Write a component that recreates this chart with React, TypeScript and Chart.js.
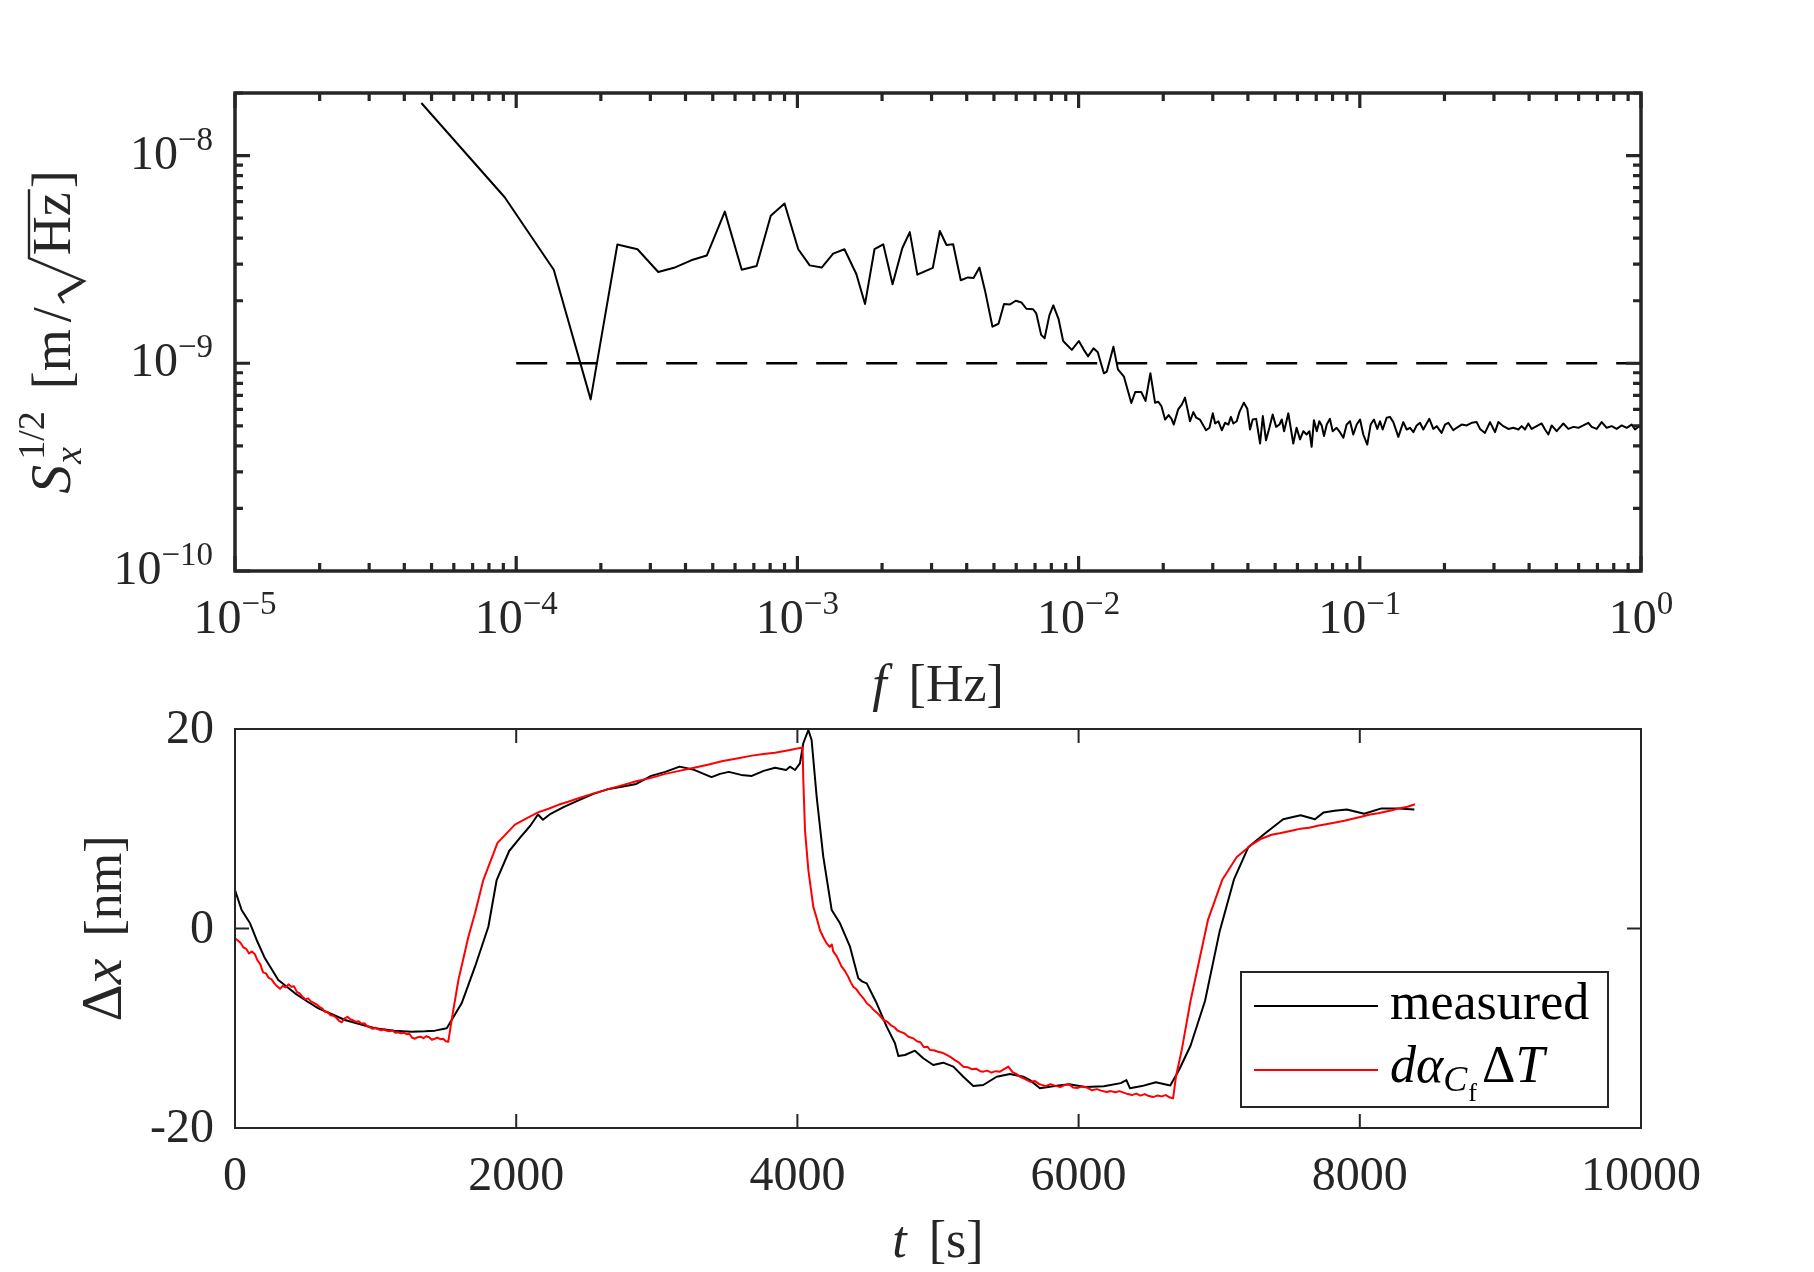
import React, { useEffect, useRef } from 'react';
import { Chart, LineController, LineElement, PointElement, LinearScale, LogarithmicScale } from 'chart.js';

Chart.register(LineController, LineElement, PointElement, LinearScale, LogarithmicScale);

// ---- top panel: amplitude spectral density ----
const psdFreq = [
  4.6e-5, 9.1e-5, 1.36e-4, 1.84e-4, 2.29e-4, 2.70e-4, 3.20e-4, 3.64e-4, 4.19e-4, 4.76e-4,
  5.52e-4, 6.34e-4, 7.16e-4, 8.04e-4, 9.00e-4, 1.007e-3, 1.106e-3, 1.22e-3, 1.34e-3, 1.47e-3,
  1.62e-3, 1.74e-3, 1.88e-3, 2.02e-3, 2.18e-3, 2.36e-3, 2.51e-3, 2.67e-3, 3.03e-3, 3.21e-3,
  3.39e-3, 3.58e-3, 3.81e-3, 4.04e-3, 4.23e-3, 4.44e-3, 4.65e-3, 4.94e-3, 5.19e-3, 5.43e-3,
  5.70e-3, 5.98e-3, 6.27e-3, 6.52e-3, 6.89e-3, 7.07e-3, 7.36e-3, 7.57e-3, 7.87e-3, 8.13e-3,
  8.49e-3, 8.81e-3, 9.46e-3, 1.002e-2, 1.04e-2, 1.08e-2, 1.13e-2, 1.17e-2, 1.23e-2, 1.26e-2,
  1.33e-2, 1.38e-2, 1.45e-2, 1.54e-2, 1.59e-2, 1.67e-2, 1.73e-2, 1.80e-2,
  0.0187, 0.0192, 0.0197, 0.0203, 0.0209, 0.0214, 0.0218, 0.0226, 0.0233, 0.0239,
  0.0244, 0.0249, 0.0256, 0.0262, 0.0270, 0.0284, 0.0292, 0.0300, 0.0306, 0.0314,
  0.0323, 0.0332, 0.0341, 0.0348, 0.0355, 0.0365, 0.0373, 0.0387, 0.0398, 0.0407,
  0.0416, 0.0428, 0.0442, 0.0452, 0.0464, 0.0477, 0.0490, 0.0504, 0.0518, 0.0528,
  0.0538, 0.0557, 0.0580, 0.0596, 0.0613, 0.0630, 0.0647, 0.0662, 0.0674, 0.0687,
  0.0703, 0.0718, 0.0732, 0.0746, 0.0763, 0.0783, 0.0801, 0.0827, 0.0850, 0.0874,
  0.0898, 0.0923, 0.0948, 0.0975, 0.1002, 0.1029, 0.1063, 0.1093, 0.1123, 0.1154,
  0.1180, 0.1206, 0.1246, 0.1280, 0.1316, 0.1371, 0.1428, 0.1468, 0.1509, 0.1551,
  0.1593, 0.1637, 0.1682, 0.1767, 0.1826, 0.1876, 0.1954, 0.2009, 0.2064, 0.2151,
  0.2210, 0.2303, 0.2399, 0.2500, 0.2604, 0.2676, 0.2787, 0.2904, 0.3026, 0.3109,
  0.3239, 0.3375, 0.3516, 0.3663, 0.3764, 0.3868, 0.3975, 0.4085, 0.4256, 0.4434,
  0.4556, 0.4683, 0.4812, 0.5013, 0.5295, 0.5516, 0.5747, 0.5988, 0.6237, 0.6497,
  0.6677, 0.6957, 0.7247, 0.7551, 0.7867, 0.8194, 0.8537, 0.8894, 0.9266, 0.9521,
  0.9865, 1.0,
];
const psdAmp = [
  1.79e-8, 6.30e-9, 2.82e-9, 6.7e-10, 3.73e-9, 3.54e-9, 2.75e-9, 2.88e-9, 3.13e-9, 3.30e-9,
  5.37e-9, 2.82e-9, 2.94e-9, 5.13e-9, 5.88e-9, 3.54e-9, 2.96e-9, 2.89e-9, 3.37e-9, 3.54e-9,
  2.69e-9, 1.93e-9, 3.54e-9, 3.74e-9, 2.40e-9, 3.58e-9, 4.28e-9, 2.67e-9, 2.88e-9, 4.33e-9,
  3.71e-9, 3.74e-9, 2.51e-9, 2.59e-9, 2.57e-9, 2.89e-9, 2.23e-9, 1.50e-9, 1.55e-9, 1.93e-9,
  1.92e-9, 2.00e-9, 1.96e-9, 1.83e-9, 1.82e-9, 1.74e-9, 1.37e-9, 1.32e-9, 1.70e-9, 1.90e-9,
  1.63e-9, 1.28e-9, 1.16e-9, 1.28e-9, 1.17e-9, 1.08e-9, 1.18e-9, 1.13e-9, 8.95e-10, 9.12e-10,
  1.20e-9, 9.35e-10, 8.62e-10, 6.44e-10, 7.27e-10, 7.27e-10, 6.59e-10, 8.95e-10,
  6.46e-10, 6.53e-10, 6.22e-10, 5.36e-10, 5.63e-10, 5.40e-10, 5.07e-10, 6.00e-10, 6.34e-10, 6.83e-10,
  6.00e-10, 5.26e-10, 5.82e-10, 5.47e-10, 5.36e-10, 4.76e-10, 4.89e-10, 5.74e-10, 5.13e-10, 5.26e-10,
  4.76e-10, 5.17e-10, 5.07e-10, 5.52e-10, 5.13e-10, 5.26e-10, 5.82e-10, 6.46e-10, 6.04e-10, 4.80e-10,
  5.36e-10, 5.40e-10, 4.11e-10, 5.57e-10, 4.26e-10, 4.89e-10, 5.67e-10, 4.94e-10, 5.07e-10, 5.36e-10,
  4.71e-10, 5.74e-10, 4.11e-10, 4.89e-10, 4.30e-10, 4.71e-10, 4.54e-10, 4.71e-10, 3.96e-10, 5.32e-10,
  4.71e-10, 5.26e-10, 5.02e-10, 4.46e-10, 5.07e-10, 5.40e-10, 4.71e-10, 4.89e-10, 4.66e-10, 4.38e-10,
  5.07e-10, 5.26e-10, 4.54e-10, 5.07e-10, 5.36e-10, 4.54e-10, 4.06e-10, 5.07e-10, 5.36e-10, 4.83e-10,
  5.26e-10, 4.80e-10, 5.47e-10, 5.52e-10, 5.21e-10, 4.42e-10, 5.21e-10, 4.80e-10, 4.89e-10, 4.66e-10,
  5.02e-10, 5.17e-10, 4.80e-10, 5.40e-10, 4.83e-10, 4.98e-10, 4.62e-10, 5.07e-10, 5.17e-10, 4.76e-10,
  4.89e-10, 5.07e-10, 5.02e-10, 5.17e-10, 5.21e-10, 4.83e-10, 4.62e-10, 5.21e-10, 4.66e-10, 5.21e-10,
  4.98e-10, 4.83e-10, 4.89e-10, 4.80e-10, 4.98e-10, 4.80e-10, 5.13e-10, 4.83e-10, 4.98e-10, 5.13e-10,
  4.80e-10, 4.54e-10, 5.02e-10, 4.71e-10, 5.13e-10, 4.83e-10, 4.94e-10, 4.89e-10, 5.02e-10, 5.17e-10,
  4.94e-10, 4.83e-10, 5.21e-10, 4.89e-10, 4.98e-10, 4.83e-10, 5.02e-10, 4.89e-10, 5.07e-10, 4.80e-10,
  4.98e-10, 4.95e-10,
];
const floorFreq = [1e-4, 1];
const floorAmp = [1e-9, 1e-9];
const freqTicks = [1e-5, 1e-4, 1e-3, 1e-2, 1e-1, 1];
const freqTickExp = ['\u22125', '\u22124', '\u22123', '\u22122', '\u22121', '0'];
const ampTicks = [1e-10, 1e-9, 1e-8];
const ampTickExp = ['\u221210', '\u22129', '\u22128'];

// ---- bottom panel: displacement vs time ----
const measT = [
  0, 47, 107, 154, 213, 308, 427, 509, 593, 690,
  782, 890, 996, 1130, 1257, 1350, 1423, 1506, 1541, 1612,
  1707, 1802, 1861, 1950, 2032, 2100, 2155, 2190, 2238, 2340,
  2443, 2549, 2649, 2750, 2854, 2960, 3060, 3162, 3265, 3389,
  3450, 3512, 3600, 3676, 3760, 3841, 3920, 3947, 3983, 4018,
  4042, 4078, 4101, 4137, 4184, 4244, 4303, 4374, 4433, 4460,
  4493, 4564, 4635, 4694, 4718, 4765, 4836, 4895, 4966, 5037,
  5109, 5180, 5251, 5322, 5417, 5512, 5607, 5654, 5725, 5830,
  5932, 6050, 6179, 6300, 6340, 6365, 6450, 6549, 6652, 6714,
  6796, 6899, 7002, 7105, 7208, 7332, 7455, 7579, 7681, 7743,
  7820, 7908, 8031, 8154, 8277, 8388,
];
const measDx = [
  3.86, 1.85, 0.52, -1.15, -2.99, -5.16, -6.5, -7.27, -8.0, -8.6,
  -9.17, -9.6, -10.0, -10.25, -10.34, -10.3, -10.24, -10.0, -9.17, -7.50,
  -3.83, 0.18, 4.86, 7.77, 9.19, 10.3, 11.43, 10.9, 11.43, 12.2,
  12.85, 13.5, 13.95, 14.2, 14.49, 15.3, 15.70, 16.23, 15.91, 15.18,
  15.5, 15.70, 15.4, 15.30, 15.8, 16.11, 15.9, 16.22, 15.89, 16.56,
  18.57, 19.9, 18.9, 13.21, 7.20, 1.85, 0.52, -1.82, -4.99, -5.3,
  -5.50, -7.50, -9.84, -11.51, -12.78, -12.68, -12.25, -13.01, -13.68, -13.45,
  -13.85, -14.86, -15.79, -15.69, -14.86, -14.59, -14.86, -15.2, -16.01, -15.8,
  -15.61, -15.9, -15.81, -15.5, -15.2, -16.01, -15.8, -15.41, -15.73, -14.19,
  -11.75, -7.27, -0.36, 4.92, 8.18, 9.60, 10.95, 11.35, 10.95, 11.64,
  11.8, 11.92, 11.51, 12.04, 12.04, 11.92,
];
const modelT = [
  0, 20, 40, 60, 80, 100, 120, 140, 160, 180,
  200, 220, 240, 260, 280, 300, 320, 340, 360, 380,
  400, 420, 440, 460, 480, 500, 520, 540, 560, 580,
  600, 620, 640, 660, 680, 700, 720, 740, 760, 780,
  800, 820, 840, 860, 880, 900, 920, 940, 960, 980,
  1000, 1020, 1040, 1060, 1080, 1100, 1120, 1140, 1160, 1180,
  1200, 1220, 1240, 1260, 1280, 1300, 1320, 1340, 1360, 1380,
  1400, 1420, 1440, 1460, 1480, 1500, 1517, 1541, 1589, 1660,
  1707, 1766, 1867, 1991, 2080, 2155, 2230, 2300, 2370, 2443,
  2540, 2649, 2750, 2854, 2960, 3060, 3160, 3265, 3370, 3470,
  3570, 3676, 3760, 3841, 3947, 4037, 4042, 4054, 4078, 4113,
  4140, 4160, 4185, 4208, 4230, 4245, 4255, 4280, 4300, 4315,
  4340, 4360, 4380, 4397, 4420, 4445, 4470, 4493, 4520, 4545,
  4570, 4590, 4611, 4640, 4665, 4690, 4710, 4729, 4760, 4790,
  4824, 4850, 4875, 4900, 4925, 4943, 4970, 5000, 5030, 5062,
  5090, 5120, 5150, 5180, 5210, 5240, 5270, 5300, 5322, 5350,
  5380, 5410, 5441, 5470, 5500, 5530, 5560, 5583, 5620, 5654,
  5690, 5720, 5767, 5800, 5830, 5870, 5900, 5932, 5960, 5990,
  6020, 6060, 6096, 6130, 6160, 6200, 6230, 6261, 6290, 6320,
  6350, 6380, 6410, 6440, 6470, 6500, 6530, 6560, 6590, 6620,
  6650, 6672, 6693, 6734, 6796, 6858, 6920, 7023, 7125, 7228,
  7300, 7372, 7430, 7480, 7530, 7579, 7640, 7700, 7760, 7826,
  7890, 7950, 8010, 8073, 8130, 8180, 8230, 8277, 8340, 8392,
];
const modelDx = [
  -0.98, -1.2, -1.45, -1.9, -2.05, -2.5, -2.3, -2.55, -3.2, -3.6,
  -4.4, -4.5, -4.95, -5.1, -5.5, -5.8, -6.05, -5.75, -5.9, -5.6,
  -5.85, -5.8, -6.35, -6.5, -6.85, -7.1, -7.0, -7.3, -7.45, -7.6,
  -7.85, -8.0, -8.35, -8.4, -8.7, -8.75, -8.95, -9.25, -9.4, -9.0,
  -8.85, -9.1, -9.2, -9.35, -9.3, -9.55, -9.5, -9.8, -9.9, -10.05,
  -9.95, -10.1, -10.2, -10.1, -10.25, -10.3, -10.2, -10.45, -10.4, -10.5,
  -10.45, -10.6, -10.55, -10.95, -11.05, -10.9, -10.85, -11.0, -10.8, -10.9,
  -11.15, -11.05, -10.95, -11.1, -11.05, -11.3, -11.35, -9.17, -5.16, -0.82,
  1.52, 4.86, 8.58, 10.41, 11.1, 11.64, 12.0, 12.4, 12.7, 13.06,
  13.5, 13.95, 14.35, 14.77, 15.1, 15.5, 15.8, 16.11, 16.45, 16.8,
  17.05, 17.33, 17.5, 17.61, 17.89, 18.16, 14.9, 9.87, 5.86, 2.19,
  0.9, -0.15, -0.9, -1.49, -1.85, -1.6, -2.3, -2.8, -3.4, -3.83,
  -4.3, -4.8, -5.4, -5.83, -6.1, -6.6, -7.0, -7.5, -7.8, -8.2,
  -8.5, -8.8, -9.17, -9.35, -9.7, -9.9, -10.2, -10.34, -10.5, -10.85,
  -11.01, -11.3, -11.4, -11.9, -11.85, -12.18, -12.2, -12.35, -12.45, -12.68,
  -12.9, -13.2, -13.45, -13.85, -13.9, -14.1, -14.05, -14.3, -14.35, -14.25,
  -14.45, -14.3, -14.35, -14.1, -13.85, -14.4, -14.6, -14.86, -15.1, -15.36,
  -15.3, -15.6, -15.81, -15.6, -15.75, -15.9, -15.7, -15.61, -15.95, -16.0,
  -15.85, -15.95, -16.22, -16.1, -16.25, -16.4, -16.3, -16.42, -16.3, -16.45,
  -16.6, -16.7, -16.55, -16.75, -16.6, -16.8, -16.9, -16.75, -16.83, -16.7,
  -16.95, -17.03, -14.79, -12.15, -7.27, -3.21, 0.86, 4.92, 7.16, 8.38,
  9.0, 9.4, 9.55, 9.7, 9.85, 10.01, 10.1, 10.3, 10.45, 10.62,
  10.8, 11.0, 11.2, 11.43, 11.55, 11.7, 11.85, 12.04, 12.2, 12.45,
];
const timeTicks = [0, 2000, 4000, 6000, 8000, 10000];
const timeTickLabels = ['0', '2000', '4000', '6000', '8000', '10000'];
const dxTicks = [-20, 0, 20];
const dxTickLabels = ['-20', '0', '20'];

// ---- layout ----
const W = 1814;
const H = 1272;
const PL = 235;
const PR = 1641;
const TOP_T = 93;
const TOP_B = 571;
const BOT_T = 729;
const BOT_B = 1128;
const AXIS = '#262626';
const SERIF = '"Liberation Serif", "Times New Roman", serif';
const rm = (s: number) => `${s}px ${SERIF}`;
const it = (s: number) => `italic ${s}px ${SERIF}`;

type Run = { t: string; f: string; dy?: number; gap?: number; hold?: boolean };

function drawRuns(ctx: CanvasRenderingContext2D, runs: Run[], x: number, y: number, align: 'left' | 'center' | 'right') {
  let w = 0;
  const offs: number[] = [];
  for (const r of runs) {
    w += r.gap ?? 0;
    offs.push(w);
    ctx.font = r.f;
    if (!r.hold) w += ctx.measureText(r.t).width;
  }
  const x0 = align === 'left' ? x : align === 'center' ? x - w / 2 : x - w;
  ctx.textAlign = 'left';
  ctx.textBaseline = 'alphabetic';
  runs.forEach((r, i) => {
    ctx.font = r.f;
    ctx.fillText(r.t, x0 + offs[i], y + (r.dy ?? 0));
  });
  return offs.map((o) => x0 + o);
}

const topDecor = {
  id: 'topDecor',
  afterDraw(chart: any) {
    const ctx: CanvasRenderingContext2D = chart.ctx;
    const { left, right, top, bottom } = chart.chartArea;
    const xs = chart.scales.x;
    const ys = chart.scales.y;
    ctx.save();
    ctx.strokeStyle = AXIS;
    ctx.fillStyle = AXIS;
    ctx.lineWidth = 3.2;
    ctx.beginPath();
    freqTicks.forEach((d) => {
      for (let m = 1; m <= 9; m++) {
        const v = d * m;
        if (v > 1.0001) break;
        const px = xs.getPixelForValue(v);
        const len = m === 1 ? 15 : 8;
        ctx.moveTo(px, bottom);
        ctx.lineTo(px, bottom - len);
        ctx.moveTo(px, top);
        ctx.lineTo(px, top + len);
      }
    });
    ampTicks.forEach((d) => {
      for (let m = 1; m <= 9; m++) {
        const v = d * m;
        if (v > 2.0001e-8) break;
        const py = ys.getPixelForValue(v);
        const len = m === 1 ? 15 : 8;
        ctx.moveTo(left, py);
        ctx.lineTo(left + len, py);
        ctx.moveTo(right, py);
        ctx.lineTo(right - len, py);
      }
    });
    ctx.stroke();
    ctx.lineWidth = 3.5;
    ctx.strokeRect(left, top, right - left, bottom - top);

    freqTicks.forEach((v, i) => {
      drawRuns(ctx, [{ t: '10', f: rm(48) }, { t: freqTickExp[i], f: rm(33), dy: -19 }], xs.getPixelForValue(v), bottom + 62, 'center');
    });
    ampTicks.forEach((v, i) => {
      drawRuns(ctx, [{ t: '10', f: rm(48) }, { t: ampTickExp[i], f: rm(33), dy: -19 }], left - 22, ys.getPixelForValue(v) + 13, 'right');
    });

    drawRuns(ctx, [{ t: 'f', f: it(52) }, { t: '[Hz]', f: rm(52), gap: 22 }], (left + right) / 2, bottom + 130, 'center');

    // rotated y title with square root
    ctx.save();
    ctx.translate(70, (top + bottom) / 2);
    ctx.rotate(-Math.PI / 2);
    const pos = drawRuns(
      ctx,
      [
        { t: 'S', f: it(58) },
        { t: 'x', f: it(38), dy: 11, gap: 1, hold: true },
        { t: '1/2', f: rm(38), dy: -26, gap: 4 },
        { t: '[m', f: rm(54), gap: 22 },
        { t: '/', f: rm(54), gap: 7 },
        { t: 'Hz', f: rm(54), gap: 52 },
        { t: ']', f: rm(54), gap: 4 },
      ],
      0,
      0,
      'center',
    );
    ctx.font = rm(54);
    const hx = pos[5];
    const hxEnd = hx + ctx.measureText('Hz').width;
    ctx.lineWidth = 2.4;
    ctx.lineJoin = 'miter';
    ctx.beginPath();
    ctx.moveTo(hx - 48, -6);
    ctx.lineTo(hx - 40, -11);
    ctx.lineTo(hx - 26, 14);
    ctx.lineTo(hx - 3, -41);
    ctx.lineTo(hxEnd + 3, -41);
    ctx.stroke();
    ctx.lineWidth = 4;
    ctx.beginPath();
    ctx.moveTo(hx - 40, -11);
    ctx.lineTo(hx - 27, 11);
    ctx.stroke();
    ctx.restore();
    ctx.restore();
  },
};

const bottomDecor = {
  id: 'bottomDecor',
  afterDraw(chart: any) {
    const ctx: CanvasRenderingContext2D = chart.ctx;
    const { left, right, top, bottom } = chart.chartArea;
    const xs = chart.scales.x;
    const ys = chart.scales.y;
    ctx.save();
    ctx.strokeStyle = AXIS;
    ctx.fillStyle = AXIS;
    ctx.lineWidth = 2;
    ctx.beginPath();
    timeTicks.forEach((v) => {
      const px = xs.getPixelForValue(v);
      ctx.moveTo(px, bottom);
      ctx.lineTo(px, bottom - 14);
      ctx.moveTo(px, top);
      ctx.lineTo(px, top + 14);
    });
    dxTicks.forEach((v) => {
      const py = ys.getPixelForValue(v);
      ctx.moveTo(left, py);
      ctx.lineTo(left + 14, py);
      ctx.moveTo(right, py);
      ctx.lineTo(right - 14, py);
    });
    ctx.stroke();
    ctx.strokeRect(left, top, right - left, bottom - top);

    timeTicks.forEach((v, i) => {
      drawRuns(ctx, [{ t: timeTickLabels[i], f: rm(48) }], xs.getPixelForValue(v), bottom + 62, 'center');
    });
    dxTicks.forEach((v, i) => {
      drawRuns(ctx, [{ t: dxTickLabels[i], f: rm(48) }], left - 21, ys.getPixelForValue(v) + 14, 'right');
    });

    drawRuns(ctx, [{ t: 't', f: it(52) }, { t: '[s]', f: rm(52), gap: 22 }], (left + right) / 2, bottom + 129, 'center');

    ctx.save();
    ctx.translate(121, (top + bottom) / 2);
    ctx.rotate(-Math.PI / 2);
    drawRuns(ctx, [{ t: '\u0394', f: rm(58) }, { t: 'x', f: it(58) }, { t: '[nm]', f: rm(52), gap: 22 }], 0, 0, 'center');
    ctx.restore();

    // legend
    const lx = 1241;
    const ly = 972;
    ctx.fillStyle = '#ffffff';
    ctx.fillRect(lx, ly, 367, 135);
    ctx.lineWidth = 2;
    ctx.strokeRect(lx, ly, 367, 135);
    ctx.strokeStyle = '#000000';
    ctx.beginPath();
    ctx.moveTo(1254, 1006);
    ctx.lineTo(1378, 1006);
    ctx.stroke();
    ctx.strokeStyle = '#ff0000';
    ctx.beginPath();
    ctx.moveTo(1254, 1070);
    ctx.lineTo(1378, 1070);
    ctx.stroke();
    ctx.fillStyle = '#000000';
    drawRuns(ctx, [{ t: 'measured', f: rm(52) }], 1390, 1019, 'left');
    drawRuns(
      ctx,
      [
        { t: 'd', f: it(52) },
        { t: '\u03b1', f: it(52) },
        { t: 'C', f: it(36), dy: 9 },
        { t: 'f', f: rm(26), dy: 19, gap: 1 },
        { t: '\u0394', f: rm(52), gap: 5 },
        { t: 'T', f: it(52) },
      ],
      1390,
      1082,
      'left',
    );
    ctx.restore();
  },
};

export default function App() {
  const topRef = useRef<HTMLCanvasElement | null>(null);
  const botRef = useRef<HTMLCanvasElement | null>(null);

  useEffect(() => {
    const charts: Chart[] = [];
    if (topRef.current) {
      charts.push(
        new Chart(topRef.current, {
          type: 'line',
          data: {
            datasets: [
              {
                data: psdFreq.map((f, i) => ({ x: f, y: psdAmp[i] })),
                borderColor: '#000000',
                borderWidth: 2,
                borderJoinStyle: 'round',
                pointRadius: 0,
                order: 0,
              },
              {
                data: floorFreq.map((f, i) => ({ x: f, y: floorAmp[i] })),
                borderColor: '#000000',
                borderWidth: 2.4,
                borderDash: [31, 19],
                pointRadius: 0,
                order: 1,
              },
            ],
          },
          options: {
            responsive: false,
            animation: false,
            devicePixelRatio: 1,
            events: [],
            layout: { padding: { left: PL, right: W - PR, top: TOP_T, bottom: H - TOP_B } },
            plugins: { legend: { display: false }, tooltip: { enabled: false } },
            scales: {
              x: { type: 'logarithmic', min: 1e-5, max: 1, display: false },
              y: { type: 'logarithmic', min: 1e-10, max: 2e-8, display: false },
            },
          },
          plugins: [topDecor],
        } as any),
      );
    }
    if (botRef.current) {
      charts.push(
        new Chart(botRef.current, {
          type: 'line',
          data: {
            datasets: [
              {
                label: 'measured',
                data: measT.map((t, i) => ({ x: t, y: measDx[i] })),
                borderColor: '#000000',
                borderWidth: 2,
                borderJoinStyle: 'round',
                pointRadius: 0,
                order: 1,
              },
              {
                label: 'model',
                data: modelT.map((t, i) => ({ x: t, y: modelDx[i] })),
                borderColor: '#ff0000',
                borderWidth: 2,
                borderJoinStyle: 'round',
                pointRadius: 0,
                order: 0,
              },
            ],
          },
          options: {
            responsive: false,
            animation: false,
            devicePixelRatio: 1,
            events: [],
            layout: { padding: { left: PL, right: W - PR, top: BOT_T, bottom: H - BOT_B } },
            plugins: { legend: { display: false }, tooltip: { enabled: false } },
            scales: {
              x: { type: 'linear', min: 0, max: 10000, display: false },
              y: { type: 'linear', min: -20, max: 20, display: false },
            },
          },
          plugins: [bottomDecor],
        } as any),
      );
    }
    return () => charts.forEach((c) => c.destroy());
  }, []);

  const canvasStyle: React.CSSProperties = { position: 'absolute', left: 0, top: 0, width: W, height: H };
  return (
    <div style={{ position: 'absolute', left: 0, top: 0, width: W, height: H, background: '#ffffff', overflow: 'hidden' }}>
      <canvas ref={topRef} width={W} height={H} style={canvasStyle} />
      <canvas ref={botRef} width={W} height={H} style={canvasStyle} />
    </div>
  );
}
